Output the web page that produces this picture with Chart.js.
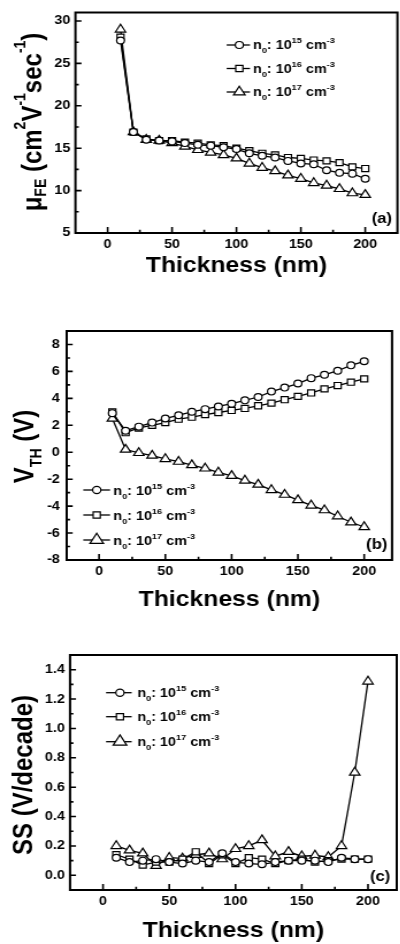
<!DOCTYPE html>
<html><head><meta charset="utf-8">
<script src="https://cdn.jsdelivr.net/npm/chart.js@4/dist/chart.umd.min.js"></script>
<style>
html,body{margin:0;padding:0;overflow:hidden;background:#fff;width:400px;height:944px;}
.panel{position:absolute;left:0;transform:scaleX(1.15);transform-origin:0 0;}
canvas{display:block;}
</style></head><body>
<div class="panel" style="top:0px"><canvas id="ca" width="352" height="300"></canvas></div>
<div class="panel" style="top:300px"><canvas id="cb" width="352" height="320"></canvas></div>
<div class="panel" style="top:620px"><canvas id="cc" width="352" height="324"></canvas></div>
<script>
// ---------- data ----------
const thickness = [10,20,30,40,50,60,70,80,90,100,110,120,130,140,150,160,170,180,190,200];
const xTicks = [0,50,100,150,200];
const legendExponents = ['15','16','17'];
const legendLabels = ['n\u2080: 10\u00B9\u2075 cm\u207B\u00B3','n\u2080: 10\u00B9\u2076 cm\u207B\u00B3','n\u2080: 10\u00B9\u2077 cm\u207B\u00B3'];

const muN15 = [27.7,16.9,16.0,15.9,15.8,15.6,15.4,15.3,15.1,14.9,14.4,14.1,13.9,13.5,13.2,13.1,12.4,12.1,12.0,11.4];
const muN16 = [28.1,16.9,16.1,15.9,15.9,15.7,15.6,15.4,15.3,15.0,14.7,14.4,14.2,13.9,13.8,13.6,13.5,13.3,12.8,12.6];
const muN17 = [29.0,16.9,16.0,15.9,15.6,15.2,14.8,14.5,14.2,13.8,13.2,12.7,12.3,11.8,11.4,10.9,10.6,10.2,9.7,9.5];
const muTicks = [5,10,15,20,25,30];

const vthN15 = [2.9,1.6,1.9,2.2,2.5,2.75,3.0,3.2,3.4,3.6,3.85,4.1,4.5,4.8,5.1,5.5,5.75,6.05,6.45,6.75];
const vthN16 = [3.0,1.45,1.8,2.0,2.2,2.45,2.6,2.8,2.95,3.1,3.25,3.45,3.65,3.9,4.15,4.4,4.7,4.95,5.2,5.45];
const vthN17 = [2.5,0.2,-0.05,-0.25,-0.5,-0.7,-0.95,-1.2,-1.5,-1.75,-2.1,-2.4,-2.8,-3.15,-3.55,-3.95,-4.3,-4.75,-5.2,-5.55];
const vthTicks = [-8,-6,-4,-2,0,2,4,6,8];

const ssN15 = [0.12,0.09,0.10,0.11,0.09,0.08,0.10,0.09,0.15,0.09,0.08,0.075,0.09,0.10,0.10,0.10,0.09,0.12,0.11,0.11];
const ssN16 = [0.14,0.11,0.07,0.09,0.09,0.11,0.16,0.08,0.14,0.08,0.12,0.11,0.08,0.10,0.11,0.09,0.10,0.11,0.11,0.11];
const ssN17 = [0.20,0.17,0.15,0.065,0.12,0.115,0.14,0.15,0.11,0.18,0.20,0.24,0.13,0.16,0.13,0.135,0.125,0.20,0.70,1.32];
const ssTicks = [0,0.2,0.4,0.6,0.8,1.0,1.2,1.4];

// ---------- styling ----------
const W = 352;
const FONT = "'Liberation Sans', Arial, sans-serif";
const markerStyles = ['circle','rect','triangle'];
const markerRadii = [3.4,4.3,5.2];

function drawMarker(ctx, style, x, y, r) {
  ctx.beginPath();
  if (style === 'circle') {
    ctx.arc(x, y, r, 0, Math.PI*2);
  } else if (style === 'rect') {
    const h = r*Math.SQRT1_2;
    ctx.rect(x-h, y-h, 2*h, 2*h);
  } else {
    let a = 0;
    for (let i=0;i<3;i++){ const px=x+Math.sin(a)*r, py=y-Math.cos(a)*r; if(i===0)ctx.moveTo(px,py); else ctx.lineTo(px,py); a+=2*Math.PI/3; }
    ctx.closePath();
  }
  ctx.fillStyle='#fff'; ctx.fill();
  ctx.strokeStyle='#000'; ctx.lineWidth=1.2; ctx.stroke();
}

function richWidth(ctx, segs, base) {
  let w=0;
  segs.forEach(s=>{ ctx.font='bold '+(s.s||base)+'px '+FONT; w+=ctx.measureText(s.t).width; });
  return w;
}
function drawRich(ctx, x, y, segs, base) {
  let cx=x;
  segs.forEach(s=>{
    ctx.font='bold '+(s.s||base)+'px '+FONT;
    ctx.fillText(s.t, cx, y+(s.dy||0));
    cx+=ctx.measureText(s.t).width;
  });
}
function legendSegs(exp){
  return [{t:'n'},{t:'0',s:8,dy:4},{t:': 10'},{t:exp,s:8,dy:-6},{t:' cm'},{t:'-3',s:8,dy:-6}];
}

const framePlugin = {
  id:'frame',
  afterDatasetsDraw(chart, args, o) {
    const {ctx, chartArea:a, scales:{x,y}} = chart;
    ctx.save();
    ctx.strokeStyle='#000';
    ctx.lineWidth=2;
    ctx.strokeRect(a.left, a.top, a.right-a.left, a.bottom-a.top);
    ctx.lineWidth=1.6;
    ctx.beginPath();
    const xs = o.xTicks;
    xs.forEach(v=>{const p=x.getPixelForValue(v); ctx.moveTo(p,a.bottom); ctx.lineTo(p,a.bottom-6);});
    for (let i=0;i<xs.length-1;i++){const p=x.getPixelForValue((xs[i]+xs[i+1])/2); ctx.moveTo(p,a.bottom); ctx.lineTo(p,a.bottom-3.3);}
    const ys = o.yTicks;
    ys.forEach(v=>{const p=y.getPixelForValue(v); ctx.moveTo(a.left,p); ctx.lineTo(a.left+5.2,p);});
    for (let i=0;i<ys.length-1;i++){const p=y.getPixelForValue((ys[i]+ys[i+1])/2); ctx.moveTo(a.left,p); ctx.lineTo(a.left+2.9,p);}
    ctx.stroke();
    ctx.restore();
  }
};

const textPlugin = {
  id:'texts',
  afterDraw(chart, args, o) {
    const ctx = chart.ctx;
    ctx.save();
    ctx.fillStyle='#000';
    ctx.textBaseline='alphabetic';
    ctx.textAlign='left';
    // y title
    const tw = richWidth(ctx, o.yTitle, 24);
    ctx.save();
    ctx.translate(o.yTitleX, o.yTitleY);
    ctx.rotate(-Math.PI/2);
    drawRich(ctx, -tw/2, 0, o.yTitle, 24);
    ctx.restore();
    // legend
    const L = o.legend;
    for (let i=0;i<3;i++){
      const ly = L.rows[i];
      ctx.strokeStyle='#000'; ctx.lineWidth=1.3;
      ctx.beginPath(); ctx.moveTo(L.x0, ly); ctx.lineTo(L.x1, ly); ctx.stroke();
      drawMarker(ctx, markerStyles[i], L.xm, ly, L.radii[i]);
      ctx.fillStyle='#000';
      drawRich(ctx, L.xt, ly+L.base, legendSegs(legendExponents[i]), 12.5);
    }
    // panel label
    ctx.font='bold 14.5px '+FONT;
    ctx.fillText(o.tag, o.tagX, o.tagY);
    ctx.restore();
  }
};

function buildPanel(id, p) {
  const area = p.area;
  const H = document.getElementById(id).height;
  new Chart(document.getElementById(id), {
    type:'line',
    data:{ datasets: p.series.map((vals,i)=>({
      label: legendLabels[i],
      data: thickness.map((t,k)=>({x:t, y:vals[k]})),
      borderColor:'#000', borderWidth:1.3, fill:false, tension:0,
      pointStyle: markerStyles[i], pointRadius: markerRadii[i],
      pointBorderWidth:1.2, pointBackgroundColor:'#fff', pointBorderColor:'#000'
    }))},
    options:{
      responsive:false, animation:false, devicePixelRatio:1,
      layout:{padding:{left:0, top:area.top, right:W-area.right, bottom:0}},
      plugins:{
        legend:{display:false}, tooltip:{enabled:false},
        frame:{xTicks:xTicks, yTicks:p.yTicks},
        texts:p.texts
      },
      scales:{
        x:{
          type:'linear', min:p.xMin, max:p.xMax,
          afterBuildTicks:s=>{s.ticks=xTicks.map(v=>({value:v}));},
          afterFit:s=>{s.height=H-area.bottom; s.paddingLeft=0; s.paddingRight=0;},
          grid:{display:false, drawTicks:false, tickLength:0}, border:{display:false},
          ticks:{color:'#000', font:{family:FONT, size:12.5, weight:'bold'}, padding:4, maxRotation:0, autoSkip:false},
          title:{display:true, text:'Thickness (nm)', color:'#000', font:{family:FONT, size:21.5, weight:'bold'}, padding:{top:0,bottom:p.xTitlePad}}
        },
        y:{
          type:'linear', min:p.yMin, max:p.yMax,
          afterBuildTicks:s=>{s.ticks=p.yTicks.map(v=>({value:v}));},
          afterFit:s=>{s.width=area.left; s.paddingTop=0; s.paddingBottom=0;},
          grid:{display:false, drawTicks:false, tickLength:0}, border:{display:false},
          ticks:{color:'#000', font:{family:FONT, size:12.5, weight:'bold'}, padding:p.yPad, autoSkip:false,
                 callback:v=>p.fmt(v)}
        }
      }
    },
    plugins:[framePlugin, textPlugin]
  });
}

buildPanel('ca', {
  series:[muN15, muN16, muN17], xMin:-25, xMax:225, yMin:5, yMax:31, yTicks:muTicks,
  area:{left:65.6, right:349.2, top:12.5, bottom:233}, xTitlePad:20.6, yPad:4.5,
  fmt:v=>String(v),
  texts:{
    yTitle:[{t:'\u03BC'},{t:'FE',s:14,dy:4},{t:' (cm'},{t:'2',s:14,dy:-14},{t:'V'},{t:'-1',s:14,dy:-14},{t:'sec'},{t:'-1',s:14,dy:-14},{t:')'}],
    yTitleX:36.1, yTitleY:122,
    legend:{x0:197.1, x1:217.4, xm:208.1, xt:220, rows:[45,68.5,92], base:4.3, radii:[3.5,4.4,5.8]},
    tag:'(a)', tagX:323.2, tagY:223
  }
});

buildPanel('cb', {
  series:[vthN15, vthN16, vthN17], xMin:-24.4, xMax:221, yMin:-8, yMax:9, yTicks:vthTicks,
  area:{left:58.0, right:340.9, top:31, bottom:260}, xTitlePad:7.1, yPad:6,
  fmt:v=>String(v),
  texts:{
    yTitle:[{t:'V'},{t:'TH',s:14,dy:7},{t:' (V)'}],
    yTitleX:28.7, yTitleY:146.5,
    legend:{x0:72.4, x1:95.7, xm:84.1, xt:98.5, rows:[190,215,240], base:4.5, radii:[3.6,4.4,6.8]},
    tag:'(b)', tagX:318.3, tagY:249
  }
});

buildPanel('cc', {
  series:[ssN15, ssN16, ssN17], xMin:-24.9, xMax:221.7, yMin:-0.1, yMax:1.5, yTicks:ssTicks,
  area:{left:60.9, right:345.0, top:35, bottom:270}, xTitlePad:0, yPad:4.5,
  fmt:v=>v.toFixed(1),
  texts:{
    yTitle:[{t:'SS (V/decade)'}],
    yTitleX:28.1, yTitleY:155,
    legend:{x0:92.2, x1:114.5, xm:104.3, xt:119.4, rows:[72.7,96.7,121.7], base:4.6, radii:[3.6,4.4,6.8]},
    tag:'(c)', tagX:321.7, tagY:261
  }
});
</script>
</body></html>
